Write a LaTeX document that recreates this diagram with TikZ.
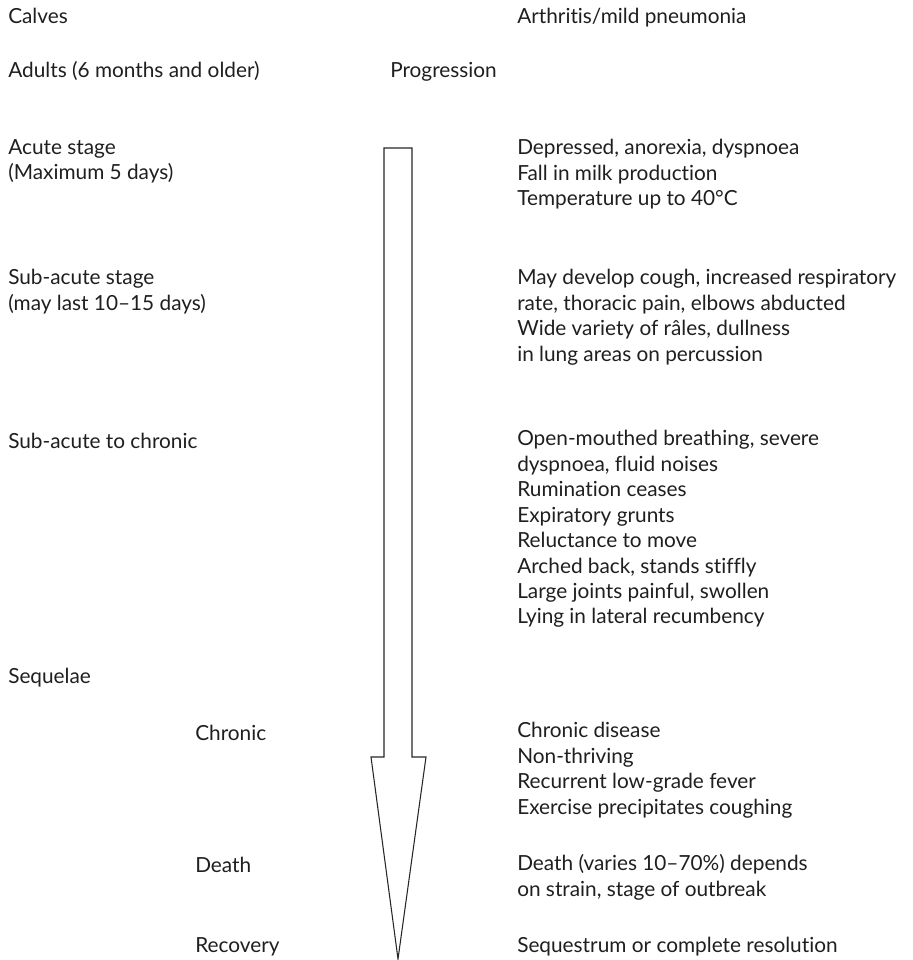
\documentclass[tikz,border=0pt]{standalone}
\usepackage{fontspec}
\setmainfont{Lato}[Ligatures=NoCommon]
\usetikzlibrary{positioning}
\tikzset{
        txt/.style = {anchor=north west, inner sep=0pt, align=left,
            yshift=13.4pt, text=black!88,
            font=\fontsize{15.6}{19.1}\selectfont,
            execute at begin node=\strut},
        bigarrow/.style = {draw=black!85, line width=0.8pt, line join=miter},
    }

\begin{document}
\begin{tikzpicture}[x=0.75pt,y=-0.75pt]
        \useasboundingbox (0,0) rectangle (913,960);

        % headings
        \node[txt] (calves) at (8,23) {Calves};
        \node[txt] (arth) at (517,23) {Arthritis/mild pneumonia};
        \node[txt] (adults) at (8,77) {Adults (6 months and older)};
        \node[txt] (prog) at (390,77) {Progression};

        % stages
        \node[txt] (acute) at (8,157) {Acute stage\\(Maximum 5 days)};
        \node[txt] (acutesigns) at (517,157) {Depressed, anorexia, dyspnoea\\Fall in milk production\\Temperature up to 40°C};

        \node[txt] (subacute) at (8,287) {Sub-acute stage\\(may last 10–15 days)};
        \node[txt] (subacutesigns) at (517,287) {May develop cough, increased respiratory\\rate, thoracic pain, elbows abducted\\Wide variety of râles, dullness\\in lung areas on percussion};

        \node[txt] (tochronic) at (8,448) {Sub-acute to chronic};
        \node[txt] (tochronicsigns) at (517,448) {Open-mouthed breathing, severe\\dyspnoea, fluid noises\\Rumination ceases\\Expiratory grunts\\Reluctance to move\\Arched back, stands stiffly\\Large joints painful, swollen\\Lying in lateral recumbency};

        % sequelae
        \node[txt] (sequelae) at (8,683) {Sequelae};
        \node[txt] (chronic) at (195,740) {Chronic};
        \node[txt] (chronicsigns) at (517,740) {Chronic disease\\Non-thriving\\Recurrent low-grade fever\\Exercise precipitates coughing};
        \node[txt] (death) at (195,872) {Death};
        \node[txt] (deathsigns) at (517,872) {Death (varies 10–70\%) depends\\on strain, stage of outbreak};
        \node[txt] (recovery) at (195,952) {Recovery};
        \node[txt] (recoverysigns) at (517,952) {Sequestrum or complete resolution};

        % progression arrow
        \draw[bigarrow] (384,148) -- (412,148) -- (412,757) -- (426,757)
            -- (398,959) -- (371,757) -- (384,757) -- cycle;
    \end{tikzpicture}
\end{document}
